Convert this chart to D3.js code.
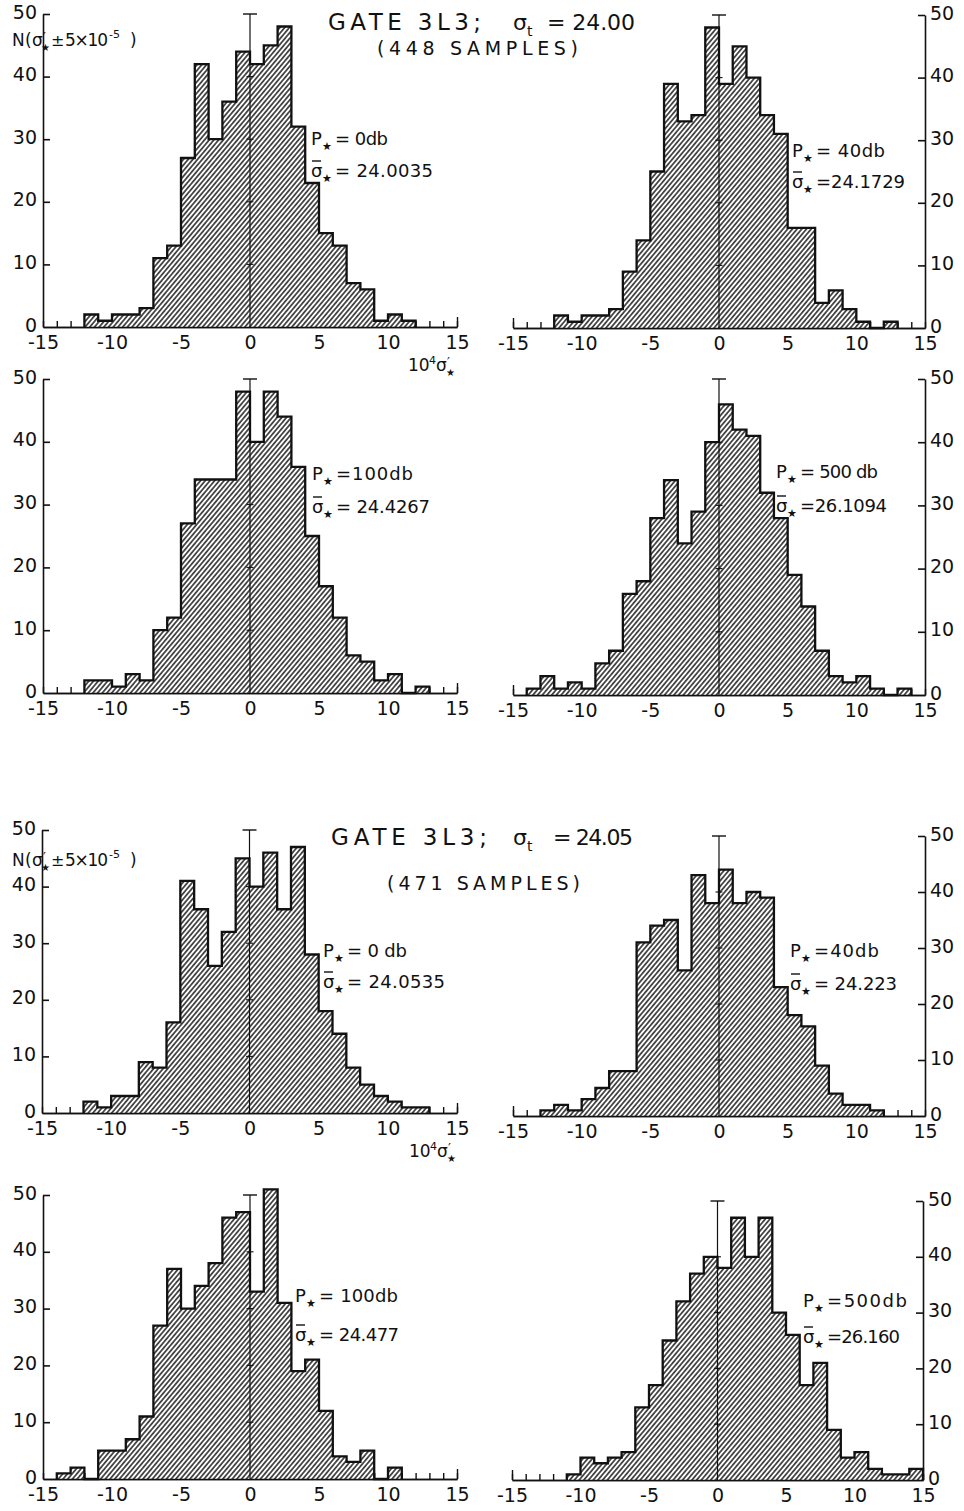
<!DOCTYPE html>
<html>
<head>
<meta charset="utf-8">
<script src="https://cdn.jsdelivr.net/npm/d3@7"></script>
<style>
  html, body { margin: 0; padding: 0; background: #fff; }
  svg { display: block; }
  text { font-family: "DejaVu Sans", "Liberation Sans", Arial, sans-serif; fill: #111; }
</style>
</head>
<body>
<svg id="chart" width="964" height="1511"></svg>
<script>
// ---- data -------------------------------------------------------------
// Left edge of each histogram bin, in units of 1e4 * sigma' (bin width 1)
const binLefts = [-15, -14, -13, -12, -11, -10, -9, -8, -7, -6, -5, -4, -3, -2, -1,
                   0, 1, 2, 3, 4, 5, 6, 7, 8, 9, 10, 11, 12, 13, 14];
const binWidth = 1;
const xDomain = [-15, 15];
const yDomain = [0, 50];
const xTickLabels = [-15, -10, -5, 0, 5, 10, 15];
const yTickLabels = [0, 10, 20, 30, 40, 50];
const yInnerTicks = [10, 20, 30, 40, 50];
const crossTicks = [10, 20, 30, 40];

// Counts per bin, GATE 3L3, sigma_t = 24.00 (448 samples)
const countsA_0db   = [0,0,0,2,1,2,2,3,11,13,27,42,30,36,44,42,45,48,32,23,15,13,7,6,1,2,1,0,0,0];
const countsA_40db  = [0,0,0,2,1,2,2,3,9,14,25,39,33,34,48,39,45,40,34,31,16,16,4,6,3,1,0,1,0,0];
const countsA_100db = [0,0,0,2,2,1,3,2,10,12,27,34,34,34,48,40,48,44,36,25,17,12,6,5,2,3,0,1,0,0];
const countsA_500db = [0,1,3,1,2,1,5,7,16,18,28,34,24,29,40,46,42,41,32,28,19,14,7,3,2,3,1,0,1,0];
// Counts per bin, GATE 3L3, sigma_t = 24.05 (471 samples)
const countsB_0db   = [0,0,0,2,1,3,3,9,8,16,41,36,26,32,45,40,46,36,47,28,18,14,8,5,3,2,1,1,0,0];
const countsB_40db  = [0,0,1,2,1,3,5,8,8,31,34,35,26,43,38,44,38,40,39,23,18,16,9,4,2,2,1,0,0,0];
const countsB_100db = [0,1,2,0,5,5,7,11,27,37,30,34,38,46,47,33,51,31,19,21,12,4,3,5,0,2,0,0,0,0];
const countsB_500db = [0,0,0,0,1,4,3,4,5,13,17,25,32,37,40,38,47,40,47,30,26,17,21,9,4,5,2,1,1,2];

const groupNames   = ["GATE 3L3;", "GATE 3L3;"];
const sigmaTValues = ["= 24.00", "= 24.05"];
const sampleLabels = ["(448  SAMPLES)", "(471  SAMPLES)"];
const powerLabels  = ["= 0db", "= 40db", "=100db", "= 500 db", "= 0 db", "=40db", "= 100db", "=500db"];
const sigmaMeans   = ["= 24.0035", "=24.1729", "= 24.4267", "=26.1094", "= 24.0535", "= 24.223", "= 24.477", "=26.160"];

// ---- layout -----------------------------------------------------------
// ann: [text x, P-line baseline, sigma-line baseline, P-line end x, sigma-line end x]
const panels = [
  { counts: countsA_0db,   side: "left",  x0: 43,  x1: 457, y0: 327,  y50: 14,   ann: [311, 145, 177, 388, 433] },
  { counts: countsA_40db,  side: "right", x0: 513, x1: 925, y0: 328,  y50: 15,   ann: [792, 157, 188, 885, 905] },
  { counts: countsA_100db, side: "left",  x0: 43,  x1: 457, y0: 693,  y50: 379,  ann: [312, 480, 513, 413, 430] },
  { counts: countsA_500db, side: "right", x0: 513, x1: 925, y0: 695,  y50: 379,  ann: [776, 478, 512, 878, 887] },
  { counts: countsB_0db,   side: "left",  x0: 42,  x1: 457, y0: 1113, y50: 830,  ann: [323, 957, 988, 407, 445] },
  { counts: countsB_40db,  side: "right", x0: 513, x1: 925, y0: 1116, y50: 836,  ann: [790, 957, 990, 879, 897] },
  { counts: countsB_100db, side: "left",  x0: 43,  x1: 457, y0: 1479, y50: 1195, ann: [295, 1302, 1341, 398, 399] },
  { counts: countsB_500db, side: "right", x0: 512, x1: 923, y0: 1480, y50: 1201, ann: [803, 1307, 1343, 907, 900] }
];

const headers = [
  { name: [328, 30, 153], sig: [513, 30], val: [547, 30, 88], samp: [377, 55, 201], ylab: [12, 46], xlab: [408, 371] },
  { name: [331, 845, 156], sig: [513, 845], val: [553, 845, 80], samp: [387, 890, 193], ylab: [12, 866], xlab: [409, 1157] }
];

const ink = "#111";
const svg = d3.select("#chart");

// diagonal hatch used for the histogram fill
const defs = svg.append("defs");
const pat = defs.append("pattern")
  .attr("id", "hatch")
  .attr("patternUnits", "userSpaceOnUse")
  .attr("width", 3.6).attr("height", 3.6)
  .attr("patternTransform", "rotate(40)");
pat.append("rect").attr("width", 3.6).attr("height", 3.6).attr("fill", "#fff");
pat.append("line")
  .attr("x1", 1.8).attr("y1", 0).attr("x2", 1.8).attr("y2", 3.6)
  .attr("stroke", ink).attr("stroke-width", 1.4);

function styleAxis(sel, w) {
  sel.selectAll("path.domain").attr("stroke", ink).attr("stroke-width", w);
  sel.selectAll(".tick line").attr("stroke", ink).attr("stroke-width", w);
}
function styleLabels(sel) {
  sel.selectAll("text").attr("fill", ink).style("font-size", "19px")
    .style("font-family", "'DejaVu Sans', 'Liberation Sans', sans-serif");
}

function drawPanel(p, idx) {
  const x = d3.scaleLinear().domain(xDomain).range([p.x0, p.x1]);
  const y = d3.scaleLinear().domain(yDomain).range([p.y0, p.y50]);
  const g = svg.append("g");

  // small ticks at every bin edge along the baseline (hidden under the bars)
  const edgeTicks = binLefts.concat([xDomain[1]]);
  const minor = g.append("g").attr("transform", `translate(0,${p.y0})`)
    .call(d3.axisTop(x).tickValues(edgeTicks).tickSize(6).tickSizeOuter(0).tickFormat(""));
  styleAxis(minor, 1.4);
  // taller tick at the open end of the baseline
  const endVal = p.side === "left" ? xDomain[1] : xDomain[0];
  const endTick = g.append("g").attr("transform", `translate(0,${p.y0})`)
    .call(d3.axisTop(x).tickValues([endVal]).tickSize(10).tickSizeOuter(0).tickFormat(""));
  styleAxis(endTick, 1.4);
  endTick.select("path.domain").remove();

  // histogram outline + hatch
  const c = p.counts;
  const first = c.findIndex(v => v > 0);
  let last = c.length - 1;
  while (c[last] === 0) last--;
  const pts = [[binLefts[first], 0]];
  for (let i = first; i <= last; i++) pts.push([binLefts[i], c[i]]);
  pts.push([binLefts[last] + binWidth, 0]);

  const area = d3.area().curve(d3.curveStepAfter)
    .x(d => x(d[0])).y0(y(0)).y1(d => y(d[1]));
  const line = d3.line().curve(d3.curveStepAfter)
    .x(d => x(d[0])).y(d => y(d[1]));
  g.append("path").datum(pts).attr("d", area).attr("fill", "url(#hatch)");
  g.append("path").datum(pts).attr("d", line)
    .attr("fill", "none").attr("stroke", ink).attr("stroke-width", 2.3)
    .attr("stroke-linejoin", "miter");

  // baseline with tick labels
  const xAx = g.append("g").attr("transform", `translate(0,${p.y0})`)
    .call(d3.axisBottom(x).tickValues(xTickLabels).tickSize(0).tickSizeOuter(0).tickPadding(9)
      .tickFormat(d => (d < 0 ? "-" + Math.abs(d) : String(d))));
  styleAxis(xAx, 1.6);
  styleLabels(xAx);

  // vertical axis on the outer side, ticks pointing inward
  if (p.side === "left") {
    const yAx = g.append("g").attr("transform", `translate(${p.x0},0)`)
      .call(d3.axisRight(y).tickValues(yInnerTicks).tickSize(7).tickSizeOuter(0).tickFormat(""));
    styleAxis(yAx, 1.6);
    const yLab = g.append("g").attr("transform", `translate(${p.x0},-2)`)
      .call(d3.axisLeft(y).tickValues(yTickLabels).tickSize(0).tickPadding(6));
    yLab.select("path.domain").remove();
    styleLabels(yLab);
  } else {
    const yAx = g.append("g").attr("transform", `translate(${p.x1},0)`)
      .call(d3.axisLeft(y).tickValues(yInnerTicks).tickSize(7).tickSizeOuter(0).tickFormat(""));
    styleAxis(yAx, 1.6);
    const yLab = g.append("g").attr("transform", `translate(${p.x1},-2)`)
      .call(d3.axisRight(y).tickValues(yTickLabels).tickSize(0).tickPadding(5));
    yLab.select("path.domain").remove();
    styleLabels(yLab);
  }

  // reference line at zero with a capped top and cross ticks
  const xc = x(0);
  g.append("line").attr("x1", xc).attr("x2", xc).attr("y1", y(0)).attr("y2", y(50))
    .attr("stroke", ink).attr("stroke-width", 1.2);
  g.append("line").attr("x1", xc - 7).attr("x2", xc + 7).attr("y1", y(50)).attr("y2", y(50))
    .attr("stroke", ink).attr("stroke-width", 1.4);
  g.selectAll("line.cross").data(crossTicks).join("line")
    .attr("class", "cross")
    .attr("x1", xc - 3.5).attr("x2", xc + 3.5)
    .attr("y1", d => y(d)).attr("y2", d => y(d))
    .attr("stroke", ink).attr("stroke-width", 1.1);

  // P* and mean sigma* annotation
  const [ax, yp, ys, wp, ws] = p.ann;
  g.append("text").attr("x", ax).attr("y", yp).style("font-size", "18px").text("P");
  g.append("text").attr("x", ax + 11).attr("y", yp + 5).style("font-size", "11px").text("★");
  g.append("text").attr("x", ax + 24).attr("y", yp)
    .attr("textLength", wp - ax - 24).attr("lengthAdjust", "spacing")
    .style("font-size", "18px").text(powerLabels[idx]);
  g.append("text").attr("x", ax).attr("y", ys).style("font-size", "18px").text("σ");
  g.append("line").attr("x1", ax + 1).attr("x2", ax + 10).attr("y1", ys - 16).attr("y2", ys - 16)
    .attr("stroke", ink).attr("stroke-width", 1.4);
  g.append("text").attr("x", ax + 11).attr("y", ys + 5).style("font-size", "11px").text("★");
  g.append("text").attr("x", ax + 24).attr("y", ys)
    .attr("textLength", ws - ax - 24).attr("lengthAdjust", "spacing")
    .style("font-size", "18px").text(sigmaMeans[idx]);
}

panels.forEach(drawPanel);

// group headings, y-axis caption and x-axis caption
headers.forEach((h, i) => {
  const g = svg.append("g");
  g.append("text").attr("x", h.name[0]).attr("y", h.name[1])
    .attr("textLength", h.name[2]).attr("lengthAdjust", "spacing")
    .style("font-size", "23px").text(groupNames[i]);
  g.append("text").attr("x", h.sig[0]).attr("y", h.sig[1]).style("font-size", "22px").text("σ");
  g.append("text").attr("x", h.sig[0] + 14).attr("y", h.sig[1] + 6).style("font-size", "14px").text("t");
  g.append("text").attr("x", h.val[0]).attr("y", h.val[1])
    .attr("textLength", h.val[2]).attr("lengthAdjust", "spacing")
    .style("font-size", "22px").text(sigmaTValues[i]);
  g.append("text").attr("x", h.samp[0]).attr("y", h.samp[1])
    .attr("textLength", h.samp[2]).attr("lengthAdjust", "spacing")
    .style("font-size", "19px").text(sampleLabels[i]);

  // N(sigma'* ± 5x10^-5)
  const [lx, ly] = h.ylab;
  g.append("text").attr("x", lx).attr("y", ly).style("font-size", "17px").text("N");
  g.append("text").attr("x", lx + 13).attr("y", ly).style("font-size", "17px").text("(");
  g.append("text").attr("x", lx + 20).attr("y", ly).style("font-size", "17px").text("σ");
  g.append("text").attr("x", lx + 31).attr("y", ly - 5).style("font-size", "13px").text("′");
  g.append("text").attr("x", lx + 29).attr("y", ly + 5).style("font-size", "10px").text("★");
  g.append("text").attr("x", lx + 39).attr("y", ly).style("font-size", "16px").text("±");
  g.append("text").attr("x", lx + 53).attr("y", ly)
    .attr("textLength", 43).attr("lengthAdjust", "spacing")
    .style("font-size", "17px").text("5×10");
  g.append("text").attr("x", lx + 97).attr("y", ly - 8).style("font-size", "11px").text("-5");
  g.append("text").attr("x", lx + 118).attr("y", ly).style("font-size", "17px").text(")");

  // 10^4 sigma'*
  const [tx, ty] = h.xlab;
  g.append("text").attr("x", tx).attr("y", ty).style("font-size", "17px").text("10");
  g.append("text").attr("x", tx + 21).attr("y", ty - 7).style("font-size", "11px").text("4");
  g.append("text").attr("x", tx + 28).attr("y", ty).style("font-size", "17px").text("σ");
  g.append("text").attr("x", tx + 39).attr("y", ty - 5).style("font-size", "13px").text("′");
  g.append("text").attr("x", tx + 38).attr("y", ty + 5).style("font-size", "10px").text("★");
});
</script>
</body>
</html>
